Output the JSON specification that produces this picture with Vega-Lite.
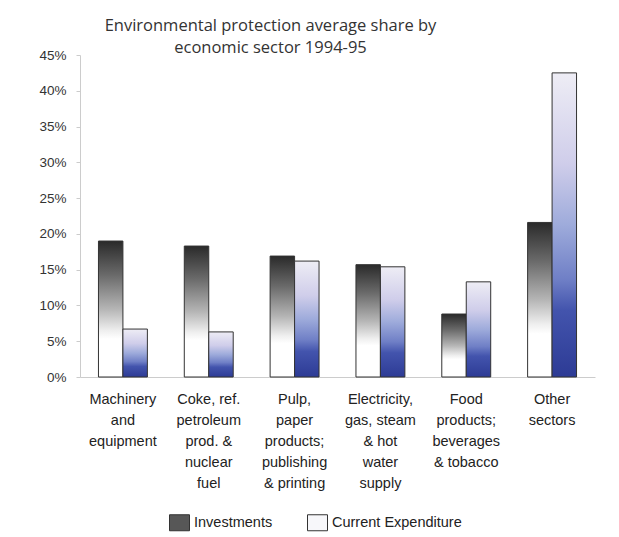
{
  "$schema": "https://vega.github.io/schema/vega-lite/v6.json",
  "autosize": {"type": "none"},
  "width": 515,
  "height": 322,
  "padding": {"left": 80, "top": 55, "right": 24, "bottom": 160},
  "background": "white",
  "title": {
    "text": ["Environmental protection average share by", "economic sector 1994-95"],
    "anchor": "middle",
    "dx": -67,
    "offset": -8,
    "font": "Open Sans",
    "fontSize": 16.5,
    "fontWeight": "normal",
    "lineHeight": 22,
    "color": "#333"
  },
  "data": {
    "values": [
      {"sector": "Machinery|and|equipment", "series": "Investments", "share": 19.0},
      {"sector": "Machinery|and|equipment", "series": "Current Expenditure", "share": 6.7},
      {"sector": "Coke, ref.|petroleum|prod. &|nuclear|fuel", "series": "Investments", "share": 18.3},
      {"sector": "Coke, ref.|petroleum|prod. &|nuclear|fuel", "series": "Current Expenditure", "share": 6.3},
      {"sector": "Pulp,|paper|products;|publishing|& printing", "series": "Investments", "share": 16.9},
      {"sector": "Pulp,|paper|products;|publishing|& printing", "series": "Current Expenditure", "share": 16.2},
      {"sector": "Electricity,|gas, steam|& hot|water|supply", "series": "Investments", "share": 15.7},
      {"sector": "Electricity,|gas, steam|& hot|water|supply", "series": "Current Expenditure", "share": 15.4},
      {"sector": "Food|products;|beverages|& tobacco", "series": "Investments", "share": 8.8},
      {"sector": "Food|products;|beverages|& tobacco", "series": "Current Expenditure", "share": 13.3},
      {"sector": "Other|sectors", "series": "Investments", "share": 21.6},
      {"sector": "Other|sectors", "series": "Current Expenditure", "share": 42.5}
    ]
  },
  "encoding": {
    "x": {
      "field": "sector", "type": "nominal", "sort": null, "title": null,
      "scale": {"paddingInner": 0.43, "paddingOuter": 0.215},
      "axis": {
        "labelAngle": 0, "labelExpr": "split(datum.label, '|')", "labelLineHeight": 21,
        "labelFontSize": 14.5, "labelFont": "Liberation Sans", "labelColor": "#222",
        "labelPadding": 15, "ticks": false, "domainColor": "#cccccc", "labelLimit": 200
      }
    },
    "xOffset": {"field": "series", "type": "nominal", "sort": ["Investments", "Current Expenditure"], "scale": {"paddingInner": 0}},
    "y": {
      "field": "share", "type": "quantitative", "title": null,
      "scale": {"domain": [0, 45], "nice": false},
      "axis": {
        "values": [0, 5, 10, 15, 20, 25, 30, 35, 40, 45], "labelExpr": "datum.value + '%'",
        "grid": false, "domainColor": "#cccccc", "tickColor": "#cccccc", "tickSize": 4,
        "labelFontSize": 13.5, "labelFont": "Liberation Sans", "labelColor": "#333", "labelPadding": 10
      }
    }
  },
  "layer": [
    {
      "transform": [{"filter": "datum.series === 'Investments'"}],
      "mark": {
        "type": "bar", "strokeWidth": 1, "stroke": "#333333",
        "fill": {"gradient": "linear", "x1": 0, "y1": 0, "x2": 0, "y2": 1,
          "stops": [
            {"offset": 0, "color": "#2a2a2a"},
            {"offset": 0.25, "color": "#6a6a6a"},
            {"offset": 0.5, "color": "#b5b5b5"},
            {"offset": 0.66, "color": "#efefef"},
            {"offset": 0.72, "color": "#ffffff"},
            {"offset": 1, "color": "#ffffff"}
          ]}
      }
    },
    {
      "transform": [{"filter": "datum.series === 'Current Expenditure'"}],
      "mark": {
        "type": "bar", "strokeWidth": 1, "stroke": "#333333",
        "fill": {"gradient": "linear", "x1": 0, "y1": 0, "x2": 0, "y2": 1,
          "stops": [
            {"offset": 0, "color": "#eeedf5"},
            {"offset": 0.3, "color": "#cfcdea"},
            {"offset": 0.5, "color": "#9eabdb"},
            {"offset": 0.68, "color": "#6f7fc6"},
            {"offset": 0.78, "color": "#4354ad"},
            {"offset": 1, "color": "#2d3b95"}
          ]}
      }
    },
    {
      "mark": {"type": "square", "opacity": 0, "stroke": "#333333", "strokeWidth": 1},
      "encoding": {
        "fill": {
          "field": "series", "type": "nominal", "sort": ["Investments", "Current Expenditure"],
          "scale": {"range": ["#575757", "#f7f7fa"]},
          "legend": {
            "title": null, "orient": "none", "legendX": 89, "legendY": 457, "direction": "horizontal",
            "symbolType": "M-1,-0.8H1V0.8H-1Z", "symbolSize": 400, "symbolStrokeWidth": 1,
            "symbolStrokeColor": "#333333", "symbolOpacity": 1,
            "labelFontSize": 14.5, "labelFont": "Liberation Sans", "labelColor": "#222",
            "columnPadding": 32, "labelOffset": 4
          }
        }
      }
    }
  ],
  "config": {
    "view": {"stroke": null}
  }
}
